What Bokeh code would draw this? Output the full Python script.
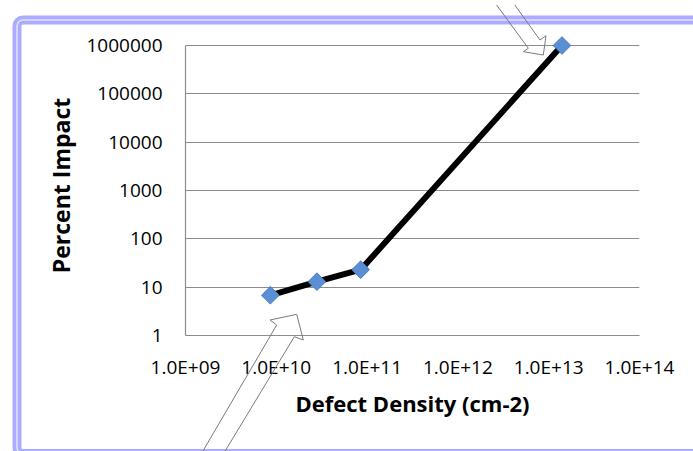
import numpy as np
from bokeh.plotting import figure
from bokeh.models import Range1d, FixedTicker, ColumnDataSource, GridBox, Div
from bokeh.embed import file_html
from bokeh.resources import INLINE

# ---- data ----
defect_density = [8.6e9, 2.8e10, 8.5e10, 1.4e13]
percent_impact = [6.8, 13.0, 23.0, 1.0e6]

x_ticks = [1e9, 1e10, 1e11, 1e12, 1e13, 1e14]
x_tick_labels = ["1.0E+09", "1.0E+10", "1.0E+11", "1.0E+12", "1.0E+13", "1.0E+14"]
y_ticks = [1, 10, 100, 1000, 10000, 100000, 1000000]
y_tick_labels = ["1", "10", "100", "1000", "10000", "100000", "1000000"]

x_title = "Defect Density (cm-2)"
y_title = "Percent Impact"

# ---- layout ----
W, H = 693, 451
FL, PT, FR, FB = 185, 45, 639, 335   # plot area box in canvas px
PAD = 10                              # extra frame room above top gridline so marker isn't clipped
decades = np.log10(y_ticks[-1] / y_ticks[0])
y_end = y_ticks[-1] * 10 ** (PAD * decades / (FB - PT))
FT = PT - PAD

p = figure(width=W, height=H, x_axis_type="log", y_axis_type="log",
           x_range=Range1d(x_ticks[0], x_ticks[-1]),
           y_range=Range1d(y_ticks[0], y_end),
           output_backend="svg", toolbar_location=None,
           min_border_left=FL, min_border_right=W - FR,
           min_border_top=FT, min_border_bottom=H - FB)
p.title.visible = False
p.background_fill_color = "white"
p.border_fill_color = "white"
p.outline_line_color = None

src = ColumnDataSource(dict(x=defect_density, y=percent_impact))
p.line("x", "y", source=src, line_color="black", line_width=6, line_join="round")
p.scatter("x", "y", source=src, marker="square", angle=np.pi / 4, size=12.5,
          fill_color="#5B8FD5", line_color="#4A7DBE", line_width=1)

GRID = "#8C8C8C"
p.xgrid.visible = False
p.ygrid.grid_line_color = GRID
p.ygrid.grid_line_width = 1.2

xa, ya = p.xaxis[0], p.yaxis[0]
xa.ticker = FixedTicker(ticks=x_ticks, minor_ticks=[])
ya.ticker = FixedTicker(ticks=y_ticks, minor_ticks=[])
ya.bounds = (y_ticks[0], y_ticks[-1])
xa.major_label_overrides = {float(t): l for t, l in zip(x_ticks, x_tick_labels)}
ya.major_label_overrides = {float(t): l for t, l in zip(y_ticks, y_tick_labels)}
xa.axis_label = x_title
ya.axis_label = y_title
for ax in (xa, ya):
    ax.major_tick_in = 0
    ax.major_tick_out = 0
    ax.minor_tick_in = 0
    ax.minor_tick_out = 0
    ax.axis_line_color = GRID
    ax.axis_line_width = 1.2
    ax.major_label_text_font = "Open Sans"
    ax.major_label_text_font_size = "19px"
    ax.major_label_text_color = "black"
    ax.axis_label_text_font = "Open Sans"
    ax.axis_label_text_font_style = "bold"
    ax.axis_label_text_color = "black"
xa.axis_label_text_font_size = "22px"
ya.axis_label_text_font_size = "23px"
xa.major_label_standoff = 18
xa.axis_label_standoff = 5
ya.major_label_standoff = 23
ya.axis_label_standoff = 6

# ---- decoration overlay: chart border and two callout arrows (page px) ----
border_box = (12, 15, 730, 448.5)       # left, top, right, bottom
arrow_top = [(477, -20), (523.3, 43.3), (518.3, 46.7), (538.3, 50),
             (541, 30.7), (535, 35), (495.4, -20)]
arrow_bottom = [(183.9, 470), (271.7, 320), (265, 315), (291.7, 309.3),
                (298.3, 335), (289.3, 331.7), (205.6, 470)]

bl, bt, br, bb = border_box
rect = f'x="{bl}" y="{bt}" width="{br - bl}" height="{bb - bt}" rx="6" ry="6" fill="none"'
polys = "".join(
    '<polygon points="' + " ".join(f"{a},{b}" for a, b in pts) +
    '" fill="none" stroke="#7A7A7A" stroke-width="1"/>'
    for pts in (arrow_top, arrow_bottom))
svg = (f'<svg xmlns="http://www.w3.org/2000/svg" width="{W}" height="{H}" '
       f'style="position:absolute;left:0;top:0;overflow:hidden;pointer-events:none">'
       f'<rect {rect} stroke="#ABABFF" stroke-width="9"/>'
       f'<rect {rect} stroke="#E2E2FF" stroke-width="1.5"/>'
       f'{polys}</svg>')
deco = Div(text=svg, width=W, height=H, styles={"pointer-events": "none"})

layout = GridBox(children=[(p, 0, 0), (deco, 0, 0)])
open("out.html", "w").write(file_html(layout, INLINE))
